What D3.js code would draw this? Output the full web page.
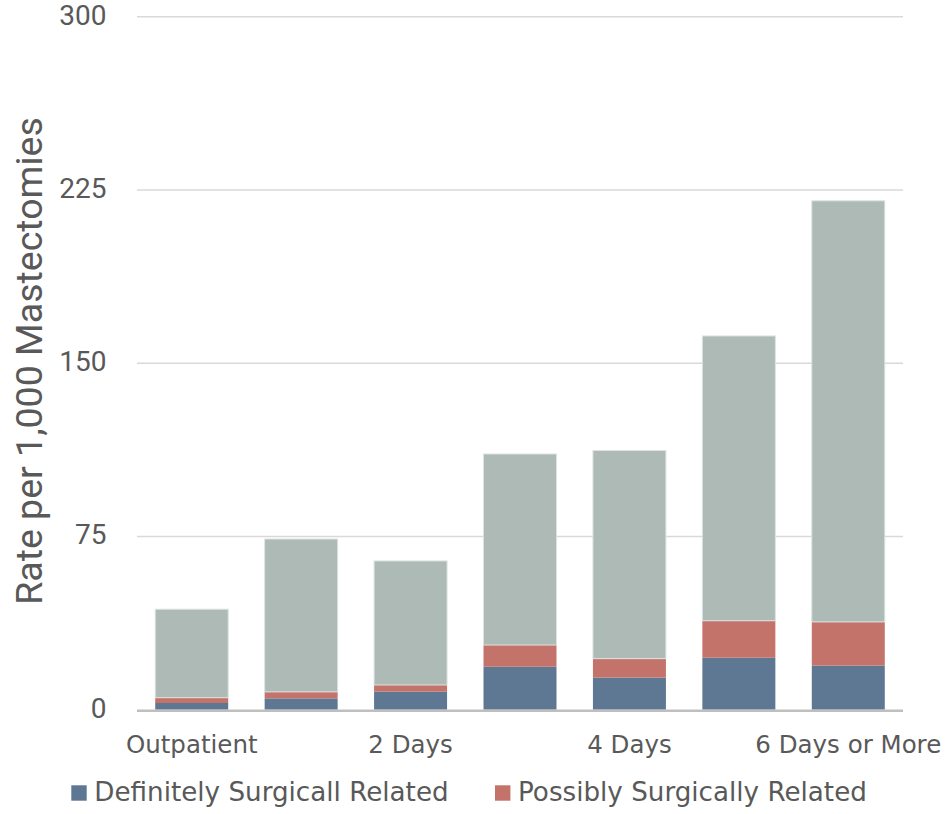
<!DOCTYPE html>
<html><head><meta charset="utf-8">
<script src="https://cdn.jsdelivr.net/npm/d3@7"></script>
<style>body{margin:0;background:#fff}</style>
</head><body>
<svg id="c" width="949" height="814"></svg>
<script>
const categories = ["Outpatient","1 Day","2 Days","3 Days","4 Days","5 Days","6 Days or More"];
const definitely = [2.9, 4.9, 7.8, 18.6, 13.9, 22.5, 19.1];
const possibly   = [2.3, 2.8, 2.9, 9.4, 8.2, 16.0, 18.9];
const other      = [38.3, 66.2, 53.7, 82.7, 90.1, 123.3, 182.3];
const yTicks = [0, 75, 150, 225, 300];
const seriesNames = ["Definitely Surgicall Related","Possibly Surgically Related","Other"];
const colors = ["#5e7793","#c4736a","#adbab5"];

const svg = d3.select("#c");
const m = {l:137, r:903, t:16.7, b:709.7};
const x = d3.scaleBand().domain(categories).range([m.l, m.r]).paddingInner(0.333).paddingOuter(0.1665);
const y = d3.scaleLinear().domain([0,300]).range([m.b, m.t]);

const rows = categories.map((c,i)=>({cat:c, d:definitely[i], p:possibly[i], o:other[i]}));
const stack = d3.stack().keys(["d","p","o"])(rows);

// gridlines
svg.append("g").selectAll("line").data(yTicks.filter(t=>t>0)).join("line")
  .attr("x1", m.l).attr("x2", m.r).attr("y1", d=>y(d)).attr("y2", d=>y(d))
  .attr("stroke","#d9d9d9").attr("stroke-width",1.5);

// bars
svg.append("g").selectAll("g").data(stack).join("g")
  .attr("fill",(d,i)=>colors[i])
  .selectAll("rect").data(d=>d).join("rect")
  .attr("x", d=>x(d.data.cat)).attr("width", x.bandwidth())
  .attr("y", d=>y(d[1])).attr("height", d=>y(d[0])-y(d[1]));

// gray bar outline
svg.append("g").selectAll("rect").data(stack[2]).join("rect")
  .attr("x", d=>x(d.data.cat)).attr("width", x.bandwidth())
  .attr("y", d=>y(d[1])).attr("height", d=>y(d[0])-y(d[1]))
  .attr("fill","none").attr("stroke","#dde3e1").attr("stroke-width",1);

// baseline
svg.append("line").attr("x1",m.l).attr("x2",m.r).attr("y1",y(0)+1).attr("y2",y(0)+1)
  .attr("stroke","#bfbfbf").attr("stroke-width",2.5);

// y axis
const yAxis = d3.axisLeft(y).tickValues(yTicks).tickSize(0).tickPadding(0);
const gy = svg.append("g").attr("transform",`translate(106.5,-1.5)`).call(yAxis);
gy.select(".domain").remove();
gy.selectAll("text").attr("fill","#595959").style("font-family","Roboto, sans-serif").style("font-size","28px");

// x axis
const xAxis = d3.axisBottom(x).tickSize(0).tickPadding(0)
  .tickFormat((d,i)=> i%2===0 ? d : "");
const gx = svg.append("g").attr("transform",`translate(0,${753 - 0.71*24.5})`).call(xAxis);
gx.select(".domain").remove();
gx.selectAll("text").attr("fill","#595959").style("font-family","'DejaVu Sans', sans-serif").style("font-size","24.5px");

// y title
svg.append("text").attr("transform","translate(42,361) rotate(-90)")
  .attr("text-anchor","middle").attr("fill","#595959")
  .style("font-family","Roboto, sans-serif").style("font-size","37.5px")
  .text("Rate per 1,000 Mastectomies");

// legend
const leg = svg.append("g");
const legX = [71.3, 495];
seriesNames.slice(0,2).forEach((n,i)=>{
  leg.append("rect").attr("x",legX[i]).attr("y",785.3).attr("width",15.4).attr("height",15.4).attr("fill",colors[i]);
  leg.append("text").attr("x",legX[i]+23).attr("y",800.5).attr("fill","#595959")
    .style("font-family","'DejaVu Sans', sans-serif").style("font-size","26.2px").text(n);
});
</script>
</body></html>
